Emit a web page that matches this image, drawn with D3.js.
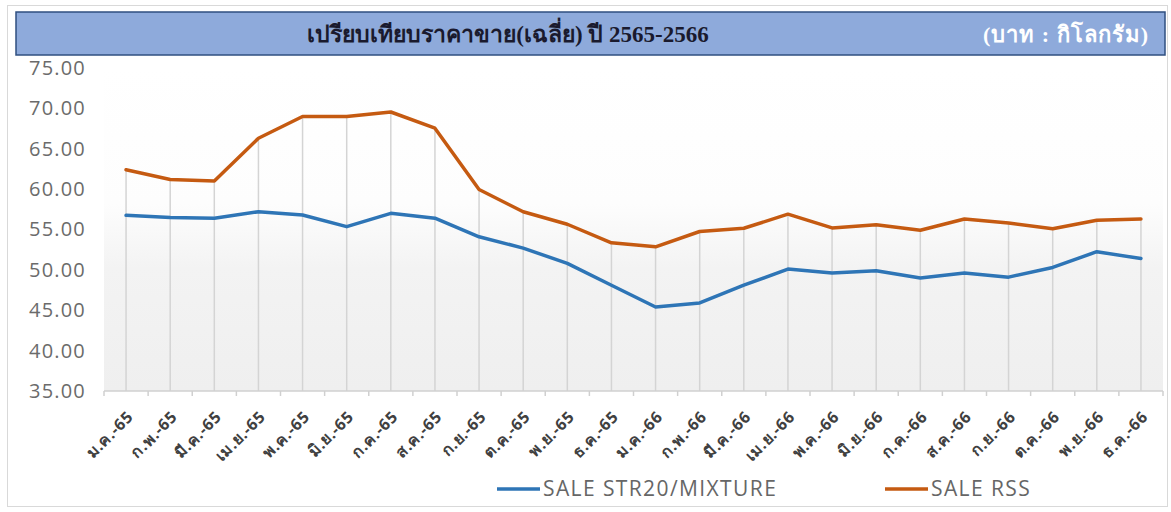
<!DOCTYPE html>
<html>
<head>
<meta charset="utf-8">
<script src="https://cdn.jsdelivr.net/npm/d3@7"></script>
<style>
  html, body { margin: 0; padding: 0; background: #ffffff; }
  svg { display: block; }
</style>
</head>
<body>
<svg id="chart" width="1171" height="512"></svg>
<script>
// Monthly average selling prices (baht / kg), 2565-2566
const months = [
  "ม.ค.-65", "ก.พ.-65", "มี.ค.-65", "เม.ย.-65", "พ.ค.-65", "มิ.ย.-65",
  "ก.ค.-65", "ส.ค.-65", "ก.ย.-65", "ต.ค.-65", "พ.ย.-65", "ธ.ค.-65",
  "ม.ค.-66", "ก.พ.-66", "มี.ค.-66", "เม.ย.-66", "พ.ค.-66", "มิ.ย.-66",
  "ก.ค.-66", "ส.ค.-66", "ก.ย.-66", "ต.ค.-66", "พ.ย.-66", "ธ.ค.-66"
];
const str20Mixture = [
  56.75, 56.5, 56.4, 57.2, 56.8, 55.35, 57.0, 56.4, 54.1, 52.7, 50.8, 48.1,
  45.4, 45.9, 48.1, 50.1, 49.6, 49.9, 49.0, 49.6, 49.1, 50.3, 52.25, 51.4
];
const rss = [
  62.4, 61.2, 61.0, 66.3, 69.0, 69.0, 69.55, 67.55, 59.95, 57.2, 55.65, 53.35,
  52.85, 54.75, 55.15, 56.9, 55.2, 55.6, 54.9, 56.3, 55.8, 55.1, 56.15, 56.3
];
const yTicks = [35, 40, 45, 50, 55, 60, 65, 70, 75];
const seriesNames = ["SALE STR20/MIXTURE", "SALE RSS"];
const seriesColors = ["#2e75b6", "#c55a11"];
const titleText = "เปรียบเทียบราคาขาย(เฉลี่ย) ปี 2565-2566";
const unitText = "(บาท : กิโลกรัม)";

const svg = d3.select("#chart");
const plot = { left: 104, right: 1163, top: 68, bottom: 391 };

const x = d3.scaleBand().domain(months).range([plot.left, plot.right]).paddingInner(0).paddingOuter(0);
const cx = d => x(d) + x.bandwidth() / 2;
const y = d3.scaleLinear().domain([35, 75]).range([plot.bottom, plot.top]);

// outer chart frame
svg.append("rect")
  .attr("x", 7.5).attr("y", 5.5).attr("width", 1160).attr("height", 501)
  .attr("fill", "#ffffff").attr("stroke", "#d9d9d9").attr("stroke-width", 1);

// plot-area background: white fading to light grey toward the axis
const defs = svg.append("defs");
const grad = defs.append("linearGradient").attr("id", "plotBg")
  .attr("x1", 0).attr("y1", 0).attr("x2", 0).attr("y2", 1);
grad.append("stop").attr("offset", "0%").attr("stop-color", "#ffffff");
grad.append("stop").attr("offset", "42%").attr("stop-color", "#fdfdfd");
grad.append("stop").attr("offset", "62%").attr("stop-color", "#f3f3f3");
grad.append("stop").attr("offset", "100%").attr("stop-color", "#efefef");
svg.append("rect")
  .attr("x", plot.left).attr("y", plot.top)
  .attr("width", plot.right - plot.left).attr("height", plot.bottom - plot.top)
  .attr("fill", "url(#plotBg)");

// title bar
svg.append("rect")
  .attr("x", 16).attr("y", 12).attr("width", 1149).attr("height", 43)
  .attr("fill", "#8eaadb").attr("stroke", "#2f4f80").attr("stroke-width", 1.5);
svg.append("text")
  .attr("x", 508).attr("y", 42)
  .attr("text-anchor", "middle")
  .attr("font-family", "'Liberation Serif', 'DejaVu Serif', serif")
  .attr("font-weight", "bold").attr("font-size", 23)
  .attr("fill", "#1a1a2e")
  .text(titleText);
svg.append("text")
  .attr("x", 1149).attr("y", 42)
  .attr("text-anchor", "end")
  .attr("font-family", "'Liberation Serif', 'DejaVu Serif', serif")
  .attr("font-weight", "bold").attr("font-size", 22)
  .attr("letter-spacing", 1)
  .attr("fill", "#ffffff")
  .text(unitText);

// drop lines from the upper series down to the axis
svg.append("g").selectAll("line")
  .data(months)
  .join("line")
  .attr("x1", d => cx(d)).attr("x2", d => cx(d))
  .attr("y1", (d, i) => y(Math.max(rss[i], str20Mixture[i])))
  .attr("y2", plot.bottom)
  .attr("stroke", "#d4d4d4").attr("stroke-width", 1.5);

// y axis labels (no axis line)
const yAxis = svg.append("g")
  .attr("transform", `translate(${plot.left},0)`)
  .call(d3.axisLeft(y).tickValues(yTicks).tickFormat(d3.format(".2f")).tickSize(0).tickPadding(18));
yAxis.select(".domain").remove();
yAxis.selectAll("text")
  .attr("font-family", "'Open Sans', 'Noto Sans', sans-serif")
  .attr("font-size", 20).attr("letter-spacing", 1.2).attr("fill", "#6b6b6b");

// x axis with ticks at category boundaries
const xAxisG = svg.append("g").attr("transform", `translate(0,${plot.bottom})`);
xAxisG.append("line")
  .attr("x1", plot.left).attr("x2", plot.right)
  .attr("stroke", "#d0d0d0").attr("stroke-width", 1.5);
const boundaries = months.map(m => x(m)).concat([plot.right]);
xAxisG.selectAll("line.tick")
  .data(boundaries)
  .join("line").attr("class", "tick")
  .attr("x1", d => d).attr("x2", d => d)
  .attr("y1", 0).attr("y2", 5)
  .attr("stroke", "#d0d0d0").attr("stroke-width", 1.5);
xAxisG.selectAll("text")
  .data(months)
  .join("text")
  .attr("transform", d => `translate(${cx(d) + 4},${23}) rotate(-45)`)
  .attr("text-anchor", "end")
  .attr("dy", "0.35em")
  .attr("font-family", "'Noto Sans', 'DejaVu Sans', sans-serif")
  .attr("font-weight", "bold")
  .attr("font-size", 16).attr("letter-spacing", 0.6).attr("fill", "#404040")
  .text(d => d);

// series lines
const line = d3.line().x((d, i) => cx(months[i])).y(d => y(d));
[str20Mixture, rss].forEach((vals, k) => {
  svg.append("path")
    .datum(vals)
    .attr("d", line)
    .attr("fill", "none")
    .attr("stroke", seriesColors[k])
    .attr("stroke-width", 3.5)
    .attr("stroke-linejoin", "round")
    .attr("stroke-linecap", "round");
});

// legend
const legendX = [497, 885];
seriesNames.forEach((name, k) => {
  const g = svg.append("g").attr("transform", `translate(${legendX[k]},489)`);
  g.append("line").attr("x1", 0).attr("x2", 43).attr("y1", 0).attr("y2", 0)
    .attr("stroke", seriesColors[k]).attr("stroke-width", 3.5);
  g.append("text").attr("x", 46).attr("y", 0).attr("dy", "0.35em")
    .attr("font-family", "'Open Sans', 'Noto Sans', sans-serif")
    .attr("font-size", 21).attr("letter-spacing", 1.4).attr("fill", "#666666")
    .text(name);
});
</script>
</body>
</html>
